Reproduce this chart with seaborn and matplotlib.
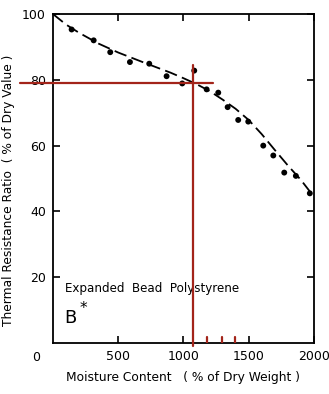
import matplotlib
matplotlib.use("Agg")
import matplotlib.pyplot as plt
import seaborn as sns
import pandas as pd

# measured points
moisture = [143, 312, 439, 590, 738, 871, 991, 1083, 1178, 1267, 1339, 1420, 1497, 1612, 1689, 1773, 1862, 1969]
ratio = [95.3, 92.0, 88.4, 85.4, 84.9, 81.1, 78.9, 82.8, 77.1, 76.1, 71.7, 67.8, 67.3, 60.0, 57.0, 51.8, 50.8, 45.5]

# fitted dashed curve
curve_x = [0, 100, 200, 350, 500, 700, 900, 1000, 1100, 1200, 1300, 1400, 1500, 1600, 1700, 1800, 1900, 1990]
curve_y = [100, 96.8, 94.3, 91.0, 88.3, 85.2, 82.2, 80.5, 78.7, 76.6, 74.0, 71.2, 67.8, 63.5, 58.7, 54.0, 49.6, 45.0]

# red guide lines
guide_h_x = [-250, 1230]
guide_h_y = [79, 79]
guide_v_x = [1075, 1075]
guide_v_y = [-1, 84.5]
small_ticks_x = [1180, 1293, 1395]

xticks = [500, 1000, 1500, 2000]
yticks = [20, 40, 60, 80, 100]

sns.set_style("white")
plt.rcParams['font.family'] = ['DejaVu Sans']
plt.rcParams['text.color'] = 'black'
plt.rcParams['axes.labelcolor'] = 'black'
plt.rcParams['xtick.color'] = 'black'
plt.rcParams['ytick.color'] = 'black'

fig = plt.figure(figsize=(3.29, 3.94), dpi=100)
ax = fig.add_axes([0.161, 0.1294, 0.793, 0.835])

red = "#a3241a"
sns.lineplot(x=curve_x, y=curve_y, ax=ax, color="black", lw=1.3, dashes=False,
             linestyle=(0, (7, 3)), sort=False)
sns.scatterplot(x=moisture, y=ratio, ax=ax, color="black", s=18, edgecolor="none", zorder=3)

ax.plot(guide_h_x, guide_h_y, color=red, lw=1.6, clip_on=False, zorder=4)
ax.plot(guide_v_x, guide_v_y, color=red, lw=1.6, clip_on=False, zorder=4)
for sx in small_ticks_x:
    ax.plot([sx, sx], [0, 1.9], color=red, lw=1.6, zorder=4)

ax.set_xlim(0, 2000)
ax.set_ylim(0, 100)
ax.set_xticks(xticks)
ax.set_yticks(yticks)
ax.set_xticklabels([str(t) for t in xticks], fontsize=9)
ax.set_yticklabels([str(t) for t in yticks], fontsize=9)
ax.tick_params(direction="in", length=5, width=1.2, top=True, right=True,
               bottom=True, left=True, pad=5, colors="black")
ax.text(-0.05, -0.025, "0", transform=ax.transAxes, ha="right", va="top", fontsize=9)

for s in ax.spines.values():
    s.set_linewidth(1.3)
    s.set_color("black")

ax.set_xlabel("Moisture Content   ( % of Dry Weight )", fontsize=8.8, labelpad=6)
ax.set_ylabel("Thermal Resistance Ratio  ( % of Dry Value )", fontsize=8.8)
ax.yaxis.set_label_coords(-0.145, 0.465)

ax.text(90, 16.5, "Expanded  Bead  Polystyrene", fontsize=8.6, ha="left", va="center")
ax.text(90, 7.5, "B", fontsize=13, ha="left", va="center")
ax.text(205, 10.5, "*", fontsize=11, ha="left", va="center")

fig.savefig("out.png", dpi=100)
